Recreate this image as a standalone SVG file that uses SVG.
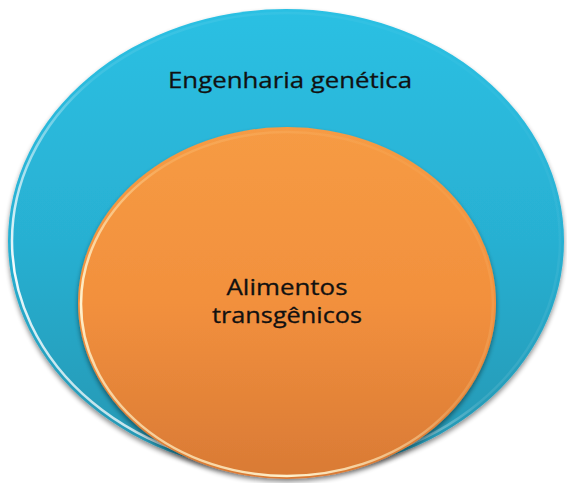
<svg xmlns="http://www.w3.org/2000/svg" width="567" height="483" viewBox="0 0 567 483">
<style>
.lbl{font-family:"Open Sans","Noto Sans","Liberation Sans",sans-serif;font-size:22px;fill:#111;text-anchor:middle;stroke:#111;stroke-width:0.3;lengthAdjust:spacingAndGlyphs}
</style>
<defs>
<linearGradient id="gBlue" x1="0" y1="0" x2="0" y2="1">
<stop offset="0" stop-color="#2CC0E3"/>
<stop offset="0.5" stop-color="#28B0D2"/>
<stop offset="1" stop-color="#2895B0"/>
</linearGradient>
<linearGradient id="gOrange" x1="0" y1="0" x2="0" y2="1">
<stop offset="0" stop-color="#F69B44"/>
<stop offset="0.5" stop-color="#F2903D"/>
<stop offset="1" stop-color="#D97A35"/>
</linearGradient>
<linearGradient id="gRim" x1="1" y1="0" x2="0" y2="1">
<stop offset="0" stop-color="#fff" stop-opacity="0"/>
<stop offset="0.5" stop-color="#fff" stop-opacity="0.1"/>
<stop offset="0.78" stop-color="#fff" stop-opacity="0.95"/>
<stop offset="1" stop-color="#fff" stop-opacity="0.3"/>
</linearGradient>
<linearGradient id="gRimO" x1="1" y1="0" x2="0" y2="1">
<stop offset="0" stop-color="#FFE9B0" stop-opacity="0"/>
<stop offset="0.45" stop-color="#FFE9B0" stop-opacity="0.2"/>
<stop offset="0.75" stop-color="#FFF3D0" stop-opacity="1"/>
<stop offset="1" stop-color="#FFE9B0" stop-opacity="0.3"/>
</linearGradient>
<filter id="shadow" x="-10%" y="-10%" width="120%" height="125%">
<feGaussianBlur in="SourceAlpha" stdDeviation="2.5"/>
<feOffset dx="0" dy="3" result="b"/>
<feComponentTransfer><feFuncA type="linear" slope="0.45"/></feComponentTransfer>
<feMerge><feMergeNode/><feMergeNode in="SourceGraphic"/></feMerge>
</filter>
</defs>
<rect width="567" height="483" fill="#fff"/>
<g id="engenharia">
<ellipse cx="286" cy="241" rx="278" ry="232" fill="url(#gBlue)" filter="url(#shadow)"/>
<ellipse cx="286" cy="241" rx="274" ry="228" fill="none" stroke="url(#gRim)" stroke-width="2.5"/>
<text class="lbl" x="290" y="88" textLength="244" lengthAdjust="spacingAndGlyphs">Engenharia genética</text>
</g>
<g id="alimentos">
<ellipse cx="287" cy="303" rx="209" ry="176" fill="url(#gOrange)" filter="url(#shadow)"/>
<ellipse cx="287" cy="304" rx="206" ry="172" fill="none" stroke="url(#gRimO)" stroke-width="2.5"/>
<text class="lbl" x="287" y="295" textLength="121" lengthAdjust="spacingAndGlyphs">Alimentos</text>
<text class="lbl" x="287" y="323" textLength="150" lengthAdjust="spacingAndGlyphs">transgênicos</text>
</g>
<g id="connectors"/>
</svg>
